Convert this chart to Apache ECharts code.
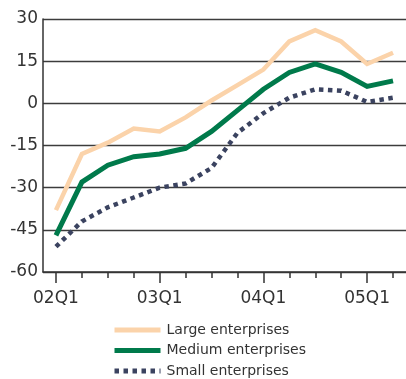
<!DOCTYPE html>
<html>
<head>
<meta charset="utf-8">
<style>
  html, body { margin: 0; padding: 0; background: #fff; }
  #chart { width: 406px; height: 379px; }
</style>
<script src="https://cdn.jsdelivr.net/npm/echarts@6/dist/echarts.min.js"></script>
</head>
<body>
<div id="chart"></div>
<script>
// Quarterly balance (%) by enterprise size
const quarters = ['02Q1', '02Q2', '02Q3', '02Q4', '03Q1', '03Q2', '03Q3', '03Q4',
                  '04Q1', '04Q2', '04Q3', '04Q4', '05Q1', '05Q2'];
const largeEnterprises  = [-38, -18, -14, -9, -10, -5, 1, 6.5, 12, 22, 26, 22, 14, 18];
const mediumEnterprises = [-47, -28, -22, -19, -18, -16, -10, -2.5, 5, 11, 14, 11, 6, 8];
const smallEnterprises  = [-51, -42, -37, -33.5, -30, -28.5, -23, -10.5, -3.5, 2, 5, 4.5, 0.5, 2];
const yTicks = { min: -60, max: 30, step: 15 };

const FONT = 'DejaVu Sans';
const INK = '#333333';

const chart = echarts.init(document.getElementById('chart'), null, { renderer: 'canvas' });

chart.setOption({
  animation: false,
  backgroundColor: '#ffffff',
  grid: { left: 43, top: 19, width: 365, height: 253, containLabel: false },
  xAxis: [
    {
      // every quarter: short ticks, no labels
      type: 'category',
      data: quarters,
      position: 'bottom',
      boundaryGap: true,
      axisLine: { show: true, onZero: false, lineStyle: { color: INK, width: 1.5 } },
      axisTick: { show: true, alignWithLabel: true, interval: 0, length: 6,
                  lineStyle: { color: INK, width: 1.5 } },
      axisLabel: { show: false },
      splitLine: { show: false }
    },
    {
      // first quarter of each year: long ticks and labels
      type: 'category',
      data: quarters,
      position: 'bottom',
      boundaryGap: true,
      axisLine: { show: false, onZero: false },
      axisTick: { show: true, alignWithLabel: true, interval: 3, length: 11,
                  lineStyle: { color: INK, width: 1.5 } },
      axisLabel: { show: true, interval: 3, margin: 18,
                   color: INK, fontFamily: FONT, fontSize: 17 },
      splitLine: { show: false }
    }
  ],
  yAxis: {
    type: 'value',
    min: yTicks.min,
    max: yTicks.max,
    interval: yTicks.step,
    axisLine: { show: true, lineStyle: { color: INK, width: 1.5 } },
    axisTick: { show: false },
    axisLabel: { color: INK, fontFamily: FONT, fontSize: 17, margin: 5 },
    splitLine: { show: true, lineStyle: { color: '#3c3c3c', width: 1.3 } }
  },
  legend: {
    orient: 'vertical',
    left: 112,
    top: 323,
    height: 60,
    padding: 0,
    itemWidth: 46,
    itemHeight: 14,
    itemGap: 6.5,
    itemStyle: { opacity: 0 },
    lineStyle: { width: 5, cap: 'butt' },
    textStyle: { color: INK, fontFamily: FONT, fontSize: 14, padding: [0, 0, 0, 1] },
    data: ['Large enterprises', 'Medium enterprises', 'Small enterprises']
  },
  series: [
    {
      name: 'Large enterprises',
      type: 'line',
      xAxisIndex: 0,
      data: largeEnterprises,
      symbol: 'none',
      color: '#fbd3aa',
      lineStyle: { color: '#fbd3aa', width: 4.5, cap: 'butt', join: 'miter' }
    },
    {
      name: 'Medium enterprises',
      type: 'line',
      xAxisIndex: 0,
      data: mediumEnterprises,
      symbol: 'none',
      color: '#007a4b',
      lineStyle: { color: '#007a4b', width: 5, cap: 'butt', join: 'miter' }
    },
    {
      name: 'Small enterprises',
      type: 'line',
      xAxisIndex: 0,
      data: smallEnterprises,
      symbol: 'none',
      color: '#3b4360',
      lineStyle: { color: '#3b4360', width: 4.5, type: [4.5, 4.5], cap: 'butt' }
    }
  ]
});
</script>
</body>
</html>
